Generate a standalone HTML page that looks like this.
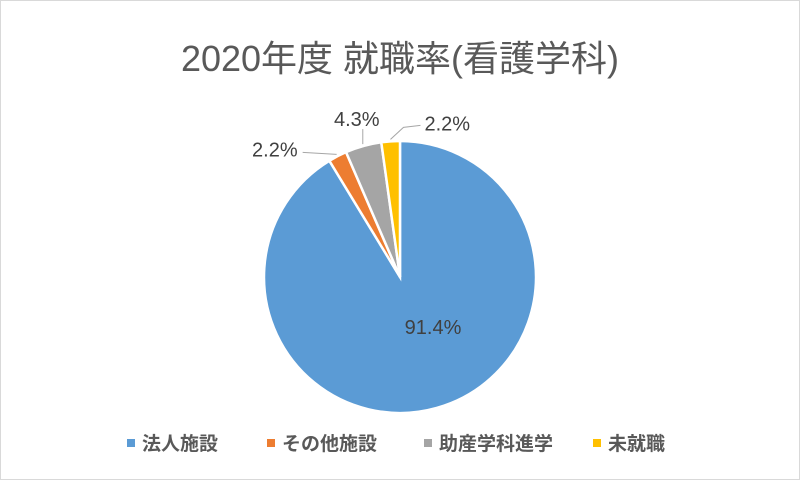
<!DOCTYPE html>
<html><head><meta charset="utf-8"><style>
html,body{margin:0;padding:0;background:#fff}
body{width:800px;height:480px;overflow:hidden;font-family:"Liberation Sans","Noto Sans CJK JP",sans-serif}
</style></head><body>
<svg width="800" height="480" viewBox="0 0 800 480" xmlns="http://www.w3.org/2000/svg">
<rect x="0.5" y="0.5" width="799" height="479" fill="#fff" stroke="#d9d9d9"/>
<text x="400" y="71" text-anchor="middle" font-size="36" fill="#595959" font-family="Liberation Sans,Noto Sans CJK JP,sans-serif">2020年度 就職率(看護学科)</text>
<g id="slices"></g>
<g id="labels" font-size="20" fill="#404040" font-family="Liberation Sans,Noto Sans CJK JP,sans-serif"></g>
<g id="legend" font-size="19" font-weight="bold" fill="#595959" font-family="Liberation Sans,Noto Sans CJK JP,sans-serif"></g>
</svg>
<script>
const categories=["法人施設","その他施設","助産学科進学","未就職"];
const values=[91.4,2.2,4.3,2.2];
const valueLabels=["91.4%","2.2%","4.3%","2.2%"];
const colors=["#5b9bd5","#ed7d31","#a5a5a5","#ffc000"];
const NS="http://www.w3.org/2000/svg";
const cx=400,cy=277,r=136;
const total=values.reduce((a,b)=>a+b,0);
const sG=document.getElementById('slices'),lG=document.getElementById('labels'),gG=document.getElementById('legend');
function pt(a,rr){return [cx+rr*Math.sin(a),cy-rr*Math.cos(a)];}
let acc=0;
values.forEach((v,i)=>{
  const a0=acc/total*2*Math.PI; acc+=v; const a1=acc/total*2*Math.PI;
  const p0=pt(a0,r),p1=pt(a1,r);
  const path=document.createElementNS(NS,'path');
  path.setAttribute('d',`M${cx},${cy}L${p0[0]},${p0[1]}A${r},${r} 0 ${a1-a0>Math.PI?1:0} 1 ${p1[0]},${p1[1]}Z`);
  path.setAttribute('fill',colors[i]);path.setAttribute('stroke','#fff');path.setAttribute('stroke-width','2.5');
  
  
  sG.appendChild(path);
  const am=(a0+a1)/2;
  const t=document.createElementNS(NS,'text');
  t.textContent=valueLabels[i];
  
  
  if(v>50){t.setAttribute('x',cx+33);t.setAttribute('y',cy+57);t.setAttribute('text-anchor','middle');}
  else{
    const e=pt(am,r+2);let lx,ly,ex,anchor;
    if(i===1){lx=e[0]-34;ly=e[1]-2;ex=lx-3;anchor='end';}
    else if(i===2){lx=e[0];ly=e[1]-15;ex=lx;anchor='middle';}
    else{lx=e[0]+13;ly=e[1]-12;ex=lx+17;anchor='start';}
    const l=document.createElementNS(NS,'polyline');
    l.setAttribute('points',i===3?`${e[0]},${e[1]} ${lx},${ly} ${ex},${ly-2}`:`${e[0]},${e[1]} ${lx},${ly}`);
    l.setAttribute('fill','none');l.setAttribute('stroke','#a6a6a6');l.setAttribute('stroke-width','1');
    
    
    lG.appendChild(l);
    t.setAttribute('text-anchor',anchor);
    if(i===1){t.setAttribute('x',ex-2);t.setAttribute('y',ly+4);}
    else if(i===2){t.setAttribute('x',lx-6);t.setAttribute('y',ly-3);}
    else{t.setAttribute('x',ex+4);t.setAttribute('y',ly+3);}
  }
  lG.appendChild(t);
});
const legX=[127,267,424,593];
categories.forEach((c,i)=>{
  const g=document.createElementNS(NS,'g');
  
  
  const m=document.createElementNS(NS,'rect');
  m.setAttribute('x',legX[i]);m.setAttribute('y',439);m.setAttribute('width',8);m.setAttribute('height',8);m.setAttribute('fill',colors[i]);
  
  
  const t=document.createElementNS(NS,'text');
  t.setAttribute('x',legX[i]+15);t.setAttribute('y',450);t.textContent=c;
  
  
  g.appendChild(m);g.appendChild(t);gG.appendChild(g);
});
</script>
</body></html>
